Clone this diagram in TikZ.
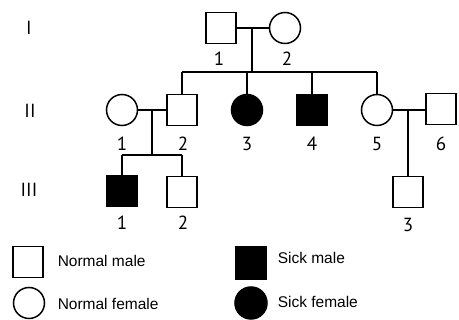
\documentclass[tikz,border=0pt]{standalone}
\usepackage{fontspec}
\setmainfont{Liberation Sans}
\newfontfamily\numfont{PT Sans}
\begin{document}
\begin{tikzpicture}[x=1pt,y=-1pt,line width=1.5pt,
  male/.style={draw,rectangle,minimum width=30pt,minimum height=31pt,inner sep=0pt},
  female/.style={draw,circle,minimum size=31pt,inner sep=0pt},
  sick/.style={fill=black},
  num/.style={font=\numfont\fontsize{19}{19}\selectfont,inner sep=0pt},
  legtxt/.style={font=\fontsize{15.5}{16}\selectfont,anchor=west,inner sep=0pt}]
\useasboundingbox (0,0) rectangle (459,320);
% generation labels
\node[num] (gI) at (29,28) {I};
\node[num] (gII) at (30,111) {II};
\node[num] (gIII) at (29,190) {III};
% generation I
\node[male] (I1) at (221,28) {};
\node[female] (I2) at (285,28) {};
\node[num] (lI1) at (219,59) {1};
\node[num] (lI2) at (287,59) {2};
\coordinate (m1) at (252,28);
\coordinate (s1) at (252,72);
\coordinate (sL) at (182,72);
\coordinate (s3) at (247,72);
\coordinate (s4) at (312,72);
\coordinate (sR) at (377,72);
% generation II
\node[female] (II1) at (122,110) {};
\node[male] (II2) at (182,110) {};
\node[female,sick] (II3) at (247,110) {};
\node[male,sick] (II4) at (312,110) {};
\node[female] (II5) at (377,110) {};
\node[male] (II6) at (441,109) {};
\foreach \n/\x in {1/122,2/183,3/247,4/312,5/377,6/441}
  \node[num] (lII\n) at (\x,144) {\n};
\draw (I1.east) -- (I2.west);
\draw (m1) -- (s1);
\draw (sL) -- (sR);
\draw (sL) -- (II2.north);
\draw (s3) -- (II3.north);
\draw (s4) -- (II4.north);
\draw (sR) -- (II5.north);
% II1 x II2
\coordinate (m2) at (152,110);
\coordinate (c2) at (152,155);
\coordinate (c2L) at (122,155);
\coordinate (c2R) at (182,155);
\draw (II1.east) -- (II2.west);
\draw (m2) -- (c2);
\draw (c2L) -- (c2R);
% II5 x II6
\coordinate (m3) at (408,110);
\draw (II5.east) -- (II6.west |- II5.east);
% generation III
\node[male,sick] (III1) at (122,191) {};
\node[male] (III2) at (182,192) {};
\node[male] (III3) at (408,192) {};
\node[num] (lIII1) at (122,223) {1};
\node[num] (lIII2) at (183,223) {2};
\node[num] (lIII3) at (408,225) {3};
\draw (c2L) -- (III1.north);
\draw (c2R) -- (III2.north);
\draw (m3) -- (III3.north);
% legend
\node[male] (Lnm) at (28,262) {};
\node[female] (Lnf) at (29,303) {};
\node[male,sick,minimum height=33pt] (Lsm) at (251,263) {};
\node[female,sick,minimum size=32pt] (Lsf) at (251,303) {};
\node[legtxt] (tnm) at (57,261) {Normal male};
\node[legtxt] (tnf) at (57,304) {Normal female};
\node[legtxt] (tsm) at (277,258) {Sick male};
\node[legtxt] (tsf) at (277,302) {Sick female};
\end{tikzpicture}
\end{document}
